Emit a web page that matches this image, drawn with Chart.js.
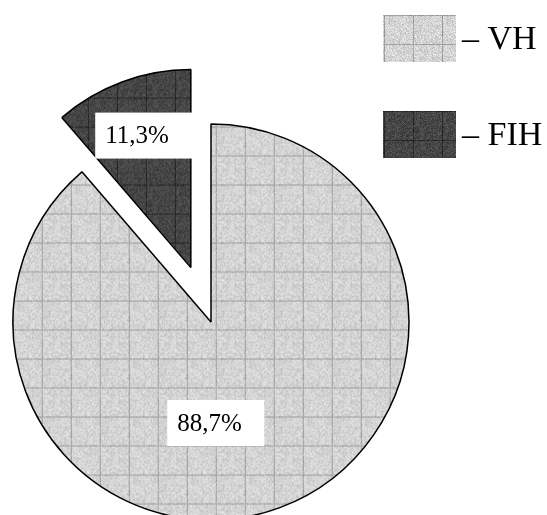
<!DOCTYPE html>
<html>
<head>
<meta charset="utf-8">
<script src="https://cdn.jsdelivr.net/npm/chart.js@4/dist/chart.umd.min.js"></script>
<style>
  html, body { margin: 0; padding: 0; background: #ffffff; }
  #wrap { width: 547px; height: 515px; position: relative; }
</style>
</head>
<body>
<div id="wrap"><canvas id="pie" width="547" height="515"></canvas></div>
<script>
// Shares of the two groups, in percent
const categories = ['VH', 'FIH'];
const shares = [88.7, 11.3];
const legendTexts = ['– VH', '– FIH'];

// Deterministic per-pixel grain for the hatched fills
function grain(x, y, seed) {
  let h = Math.imul(x + 374761393, 668265263) ^ Math.imul(y + seed * 97, 2246822519);
  h = Math.imul(h ^ (h >>> 13), 1274126177);
  h ^= h >>> 16;
  return (h >>> 0) / 4294967295;
}

// Builds a 2x2-cell tile: grainy grey with grid lines on the first row/column of each cell
function makeTile(base, spread, lineBase, seed) {
  const cell = 29, size = cell * 2;
  const c = document.createElement('canvas');
  c.width = size; c.height = size;
  const g = c.getContext('2d');
  const img = g.createImageData(size, size);
  for (let y = 0; y < size; y++) {
    for (let x = 0; x < size; x++) {
      const n = grain(x, y, seed);
      const onLine = (x % cell === 0) || (y % cell === 0);
      let v = onLine ? lineBase + (n - 0.5) * spread * 0.8 : base + (n - 0.5) * spread;
      v = Math.max(0, Math.min(255, Math.round(v)));
      const i = (y * size + x) * 4;
      img.data[i] = v; img.data[i + 1] = v; img.data[i + 2] = v; img.data[i + 3] = 255;
    }
  }
  g.putImageData(img, 0, 0);
  return c;
}

const ctx = document.getElementById('pie').getContext('2d');
const lightTile = makeTile(212, 46, 158, 1);
const darkTile = makeTile(70, 40, 40, 2);

function patternAt(tile, dx, dy) {
  const p = ctx.createPattern(tile, 'repeat');
  p.setTransform(new DOMMatrix().translate(dx, dy));
  return p;
}

const sliceFills = [patternAt(lightTile, 12.7, 10.5), patternAt(darkTile, 21, 7)];
const sliceOffsets = [0, 232];

// Where an arc's tip ends up after Chart.js shifts it by its offset
function arcTip(arc, i) {
  const off = (sliceOffsets[i] || 0) / 4;
  const mid = (arc.startAngle + arc.endAngle) / 2;
  return { x: arc.x + Math.cos(mid) * off, y: arc.y + Math.sin(mid) * off };
}

// Chart.js widens an exploded arc by part of its offset and trims its outer
// angle a little; undo both so the pulled-out wedge is only shifted.
const keepRadiusPlugin = {
  id: 'keepRadius',
  beforeDatasetsDraw(chart) {
    const meta = chart.getDatasetMeta(0);
    const R = meta.controller.outerRadius;
    meta.data.forEach((arc, i) => {
      const off = (sliceOffsets[i] || 0) / 4;
      if (!off) return;
      const fix = 1 - Math.sin(Math.min(Math.PI, arc.circumference));
      const grow = off * fix;
      arc.outerRadius = R - grow;
      const trim = grow / (2 * Math.PI * R);
      arc.startAngle -= trim;
      arc.endAngle += trim;
    });
  }
};

// Percentage labels in white boxes, placed relative to each slice tip (fractions of radius)
const labelBoxes = [
  { fx: -0.221, fy: 0.394 },
  { fx: -0.483, fy: -0.783 }
];

const labelPlugin = {
  id: 'shareLabels',
  afterDatasetsDraw(chart) {
    const c = chart.ctx;
    const meta = chart.getDatasetMeta(0);
    const r = meta.controller.outerRadius;
    c.save();
    c.font = '25px "Liberation Serif", "Times New Roman", serif';
    c.textBaseline = 'middle';
    c.textAlign = 'left';
    meta.data.forEach((arc, i) => {
      const tip = arcTip(arc, i);
      const bx = tip.x + labelBoxes[i].fx * r;
      const by = tip.y + labelBoxes[i].fy * r;
      const w = 97, h = 46;
      c.fillStyle = '#ffffff';
      c.fillRect(bx, by, w, h);
      c.fillStyle = '#000000';
      const txt = shares[i].toFixed(1).replace('.', ',') + '%';
      c.fillText(txt, bx + 10, by + h / 2 + 1);
    });
    c.restore();
  }
};

// Legend on the right: patterned swatch followed by "– name"
const legendPlugin = {
  id: 'swatchLegend',
  afterDraw(chart) {
    const c = chart.ctx;
    const x0 = chart.width - 164;
    const tiles = [lightTile, darkTile];
    c.save();
    c.font = '34px "Liberation Serif", "Times New Roman", serif';
    c.textBaseline = 'middle';
    c.textAlign = 'left';
    categories.forEach((name, i) => {
      const y0 = 15 + i * 96;
      const p = c.createPattern(tiles[i], 'repeat');
      p.setTransform(new DOMMatrix().translate(x0 + 1, y0));
      c.fillStyle = p;
      c.fillRect(x0, y0, 73, 47);
      c.fillStyle = '#000000';
      c.fillText(legendTexts[i], x0 + 79, y0 + 25);
    });
    c.restore();
  }
};

new Chart(ctx, {
  type: 'pie',
  data: {
    labels: categories,
    datasets: [{
      data: shares,
      backgroundColor: sliceFills,
      borderColor: '#000000',
      borderWidth: 1.5,
      offset: sliceOffsets,
      clip: false
    }]
  },
  options: {
    responsive: false,
    animation: false,
    devicePixelRatio: 1,
    radius: 198,
    layout: { padding: { left: 0, right: 125, top: 129, bottom: 0 } },
    plugins: {
      legend: { display: false },
      tooltip: { enabled: false }
    }
  },
  plugins: [keepRadiusPlugin, labelPlugin, legendPlugin]
});
</script>
</body>
</html>
